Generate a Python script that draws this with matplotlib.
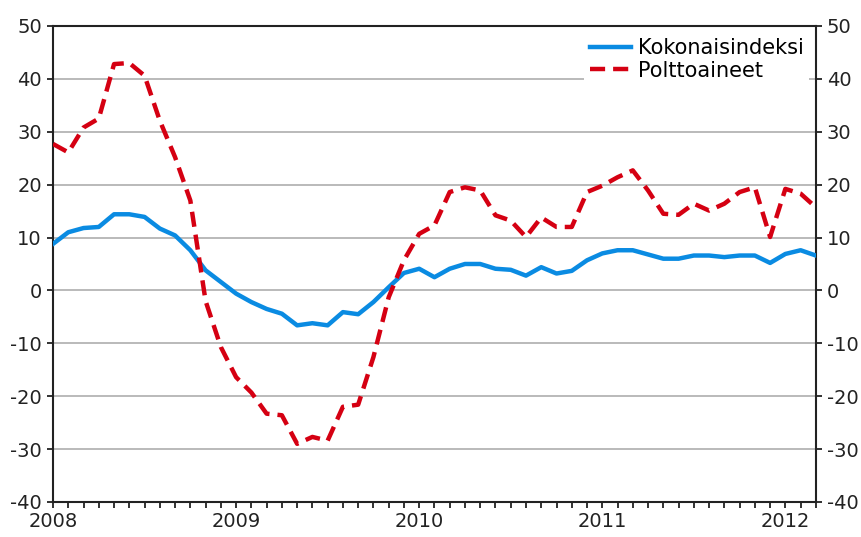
import matplotlib
matplotlib.use("Agg")
import matplotlib.pyplot as plt
import numpy as np

plt.rcParams["axes.unicode_minus"] = False

# monthly values, Jan 2008 .. Mar 2012
kokonais = [8.8, 11.0, 11.8, 12.0, 14.4, 14.4, 13.9, 11.7, 10.4, 7.6,
            3.8, 1.6, -0.6, -2.2, -3.5, -4.4, -6.6, -6.2, -6.6, -4.1,
            -4.5, -2.2, 0.6, 3.3, 4.1, 2.5, 4.1, 5.0, 5.0, 4.1,
            3.9, 2.8, 4.4, 3.2, 3.7, 5.7, 7.0, 7.6, 7.6, 6.8,
            6.0, 6.0, 6.6, 6.6, 6.3, 6.6, 6.6, 5.2, 6.9, 7.6,
            6.6]
poltto = [27.7, 26.1, 30.8, 32.5, 42.8, 43.0, 40.6, 32.1, 25.2, 17.0,
          -2.0, -10.7, -16.4, -19.3, -23.3, -23.6, -29.0, -27.7, -28.4, -22.0,
          -21.6, -12.6, -1.3, 5.7, 10.7, 12.3, 18.6, 19.5, 18.9, 14.2,
          13.2, 10.1, 13.8, 12.0, 12.0, 18.6, 19.8, 21.4, 22.7, 18.9,
          14.5, 14.3, 16.4, 15.1, 16.4, 18.6, 19.5, 10.1, 19.2, 18.3,
          15.7]
years = ["2008", "2009", "2010", "2011", "2012"]
names = ["Kokonaisindeksi", "Polttoaineet"]

x = np.arange(len(kokonais))

fig = plt.figure(figsize=(8.62, 5.37), dpi=100)
ax = fig.add_axes([0.0615, 0.0652, 0.885, 0.8864])

ax.plot(x, kokonais, color="#0a8be2", lw=3.2, label=names[0], zorder=3)
ax.plot(x, poltto, color="#d50012", lw=3.2, label=names[1], dashes=(3.4, 1.8), zorder=4)

ax.set_xlim(0, len(x) - 1)
ax.set_ylim(-40, 50)
ax.set_yticks(np.arange(-40, 51, 10))
ax.yaxis.grid(True, color="#b4b4b4", lw=1.3)
ax.set_axisbelow(True)

ax.set_xticks(np.arange(0, len(x), 12))
ax.set_xticklabels(years)
ax.set_xticks(x, minor=True)

for s in ax.spines.values():
    s.set_color("#222222")
    s.set_linewidth(1.5)

ax.tick_params(axis="y", which="both", left=True, right=True, labelleft=True, labelright=True,
               direction="out", length=4, width=1.3, labelsize=14, pad=4, colors="#222222")
ax.tick_params(axis="x", which="both", direction="out", length=4, width=1.3,
               labelsize=14, pad=3, colors="#222222")

leg = ax.legend(loc="upper right", frameon=True, fontsize=15, handlelength=2.0,
                handletextpad=0.3, labelspacing=0.1, borderpad=0.25,
                borderaxespad=0.35, fancybox=False)
leg.get_frame().set_edgecolor("none")
leg.get_frame().set_facecolor("white")
leg.get_frame().set_alpha(1)

fig.savefig("out.png", dpi=100)
